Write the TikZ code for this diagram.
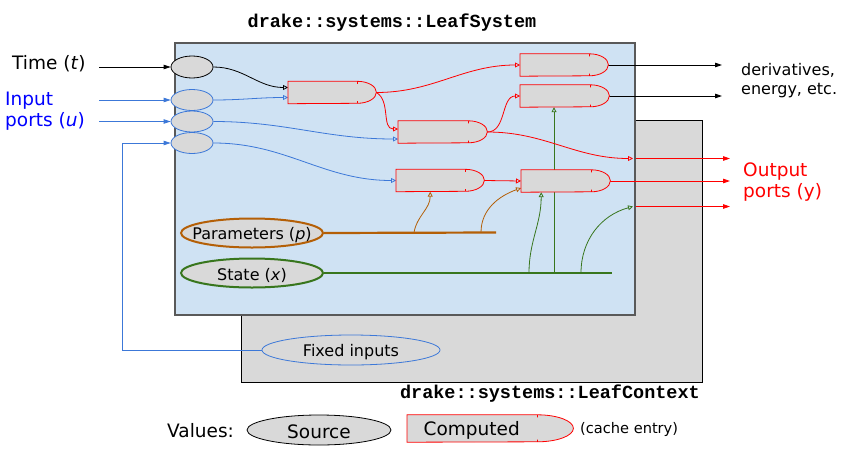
\documentclass[tikz,border=0pt]{standalone}
\usepackage{fontspec}
\setmainfont{DejaVu Sans}
\setmonofont{Liberation Mono}
\usetikzlibrary{shapes.geometric,arrows.meta}

\definecolor{sysblue}{HTML}{CFE2F3}
\definecolor{ctxgray}{HTML}{D9D9D9}
\definecolor{linkblue}{HTML}{3C78D8}
\definecolor{parorange}{HTML}{B45F06}
\definecolor{stgreen}{HTML}{38761D}

\tikzset{
  lbl/.style={inner sep=0pt, font=\fontsize{18.5}{21}\selectfont},
  small/.style={inner sep=0pt, font=\fontsize{16}{19}\selectfont},
  title/.style={inner sep=0pt, font=\fontsize{18.5}{21}\selectfont\ttfamily\bfseries},
  src/.style={ellipse, draw, fill=ctxgray, inner sep=0pt, line width=0.8pt},
  entry/.style={rectangle, inner sep=0pt, minimum height=22pt, anchor=west},
  entryline/.style={draw=red, fill=ctxgray, line width=0.8pt},
  feed/.style={line width=0.8pt, -{Triangle[open,length=5pt,width=5pt]}},
  push/.style={line width=0.8pt, -{Triangle[length=7pt,width=4.5pt]}},
}

\begin{document}
\begin{tikzpicture}[x=1pt,y=1pt]
  \useasboundingbox (0,0) rectangle (850,-450);

  % context and system
  \node[draw=black, fill=ctxgray, line width=1pt, inner sep=0pt,
        minimum width=461pt, minimum height=262pt] (context) at (471.5,-251) {};
  \node[draw=black!65, fill=sysblue, line width=1.2pt, inner sep=0pt,
        minimum width=460pt, minimum height=272pt] (system) at (405,-179) {};
  \node[title] (systitle) at (392,-23) {drake::systems::LeafSystem};
  \node[title, anchor=east] (ctxtitle) at (700,-394) {drake::systems::LeafContext};

  % sources
  \node[src, minimum width=42pt, minimum height=22pt] (t) at (192,-67) {};
  \node[src, draw=linkblue, minimum width=42pt, minimum height=21pt] (u1) at (192,-100) {};
  \node[src, draw=linkblue, minimum width=42pt, minimum height=21pt] (u2) at (192,-121.5) {};
  \node[src, draw=linkblue, minimum width=42pt, minimum height=21pt] (u3) at (192,-143) {};
  \node[src, draw=parorange, line width=2pt, minimum width=142pt, minimum height=29pt,
        label={[small, yshift=-2pt]center:Parameters (\textit{p})}] (params) at (252,-233) {};
  \node[src, draw=stgreen, line width=2pt, minimum width=142pt, minimum height=29pt,
        label={[small, yshift=-2pt]center:State (\textit{x})}] (state) at (252,-273) {};
  \node[src, draw=linkblue, fill=none, minimum width=178pt, minimum height=30pt,
        label={[small, yshift=-2pt]center:Fixed inputs}] (fixed) at (351,-350) {};

  % cache entries
  \node[entry, minimum width=88pt] (c1) at (288,-92.5) {};
  \node[entry, minimum width=88pt] (c2) at (520,-65) {};
  \node[entry, minimum width=89pt] (c3) at (520,-96) {};
  \node[entry, minimum width=89pt] (c4) at (398,-132) {};
  \node[entry, minimum width=88pt] (c5) at (396,-180.5) {};
  \node[entry, minimum width=89pt] (c6) at (521,-181) {};

  % outside labels
  \node[lbl, anchor=west] (timelbl) at (12,-64) {Time (\textit{t})};
  \node[lbl, anchor=west, align=left, text=blue] (inlbl) at (5,-111) {Input\\ports (\textit{u})};
  \node[small, anchor=west, align=left] (derivlbl) at (741,-80.5) {derivatives,\\energy, etc.};
  \node[lbl, anchor=west, align=left, text=red] (outlbl) at (743,-182) {Output\\ports (y)};

  \coordinate (tin) at (99,-67);
  \coordinate (uin1) at (99,-100);
  \coordinate (uin2) at (99,-121.5);
  \coordinate (bend) at (122,-350);
  \coordinate (pend) at (496,-232.5);
  \coordinate (send) at (612,-273);
  \coordinate (pb1) at (414,-232.5);
  \coordinate (pb2) at (481,-232.5);
  \coordinate (sb1) at (529,-273);
  \coordinate (sb2) at (554,-273);
  \coordinate (sb3) at (581,-273);
  \coordinate (y1) at (633,-158.5);
  \coordinate (y3) at (633,-206.5);
  \coordinate (dv1) at (722,-65);
  \coordinate (dv2) at (722,-96);
  \coordinate (yo1) at (730,-158.5);
  \coordinate (yo2) at (730,-181);
  \coordinate (yo3) at (730,-206.5);

  % inputs
  \draw[push] (tin) -- (t.west);
  \draw[push, linkblue] (uin1) -- (u1.west);
  \draw[push, linkblue] (uin2) -- (u2.west);
  \draw[push, linkblue] (fixed.west) -- (bend) |- (u3.west);

  % parameters and state
  \draw[parorange, line width=2.2pt] (params.east) -- (pend);
  \draw[stgreen, line width=2.2pt] (state.east) -- (send);
  \draw[feed, parorange] (pb1) to[out=80, in=-90] ([xshift=-10pt]c5.south);
  \draw[feed, parorange] (pb2) to[out=90, in=200] ([yshift=-7pt]c6.west);
  \draw[feed, stgreen] (sb1) to[out=90, in=-90] ([xshift=-24.5pt]c6.south);
  \draw[feed, stgreen] (sb2) -- (sb2 |- c3.south);
  \draw[feed, stgreen] (sb3) to[out=90, in=195] (y3);

  % computations
  \draw[feed] (t.east) to[out=0, in=180] ([yshift=5pt]c1.west);
  \draw[feed, linkblue] (u1.east) to[out=0, in=180] ([yshift=-5pt]c1.west);
  \draw[feed, linkblue] (u2.east) to[out=0, in=180] ([yshift=-7pt]c4.west);
  \draw[feed, linkblue] (u3.east) to[out=0, in=180] (c5.west);
  \draw[feed, red] (c1.east) to[out=0, in=180] (c2.west);
  \draw[feed, red] (c1.east) to[out=-30, in=180] ([yshift=3pt]c4.west);
  \draw[feed, red] (c4.east) to[out=0, in=180] (c3.west);
  \draw[feed, red] (c4.east) to[out=0, in=180] (y1);
  \draw[feed, red] (c5.east) -- (c6.west);

  % outputs
  \draw[push] (c2.east) -- (dv1);
  \draw[push] (c3.east) -- (dv2);
  \draw[push, red] ([xshift=3pt]y1) -- (yo1);
  \draw[push, red] (c6.east) -- (yo2);
  \draw[push, red] ([xshift=3pt]y3) -- (yo3);

  \foreach \n in {c1,c2,c3,c4,c5,c6}
    \draw[entryline] (\n.north west) -- ([xshift=-19pt]\n.north east)
      arc[start angle=90, end angle=-90, x radius=19pt, y radius=11pt]
      -- (\n.south west) -- cycle
      ([xshift=-19pt]\n.north east) -- ++(0,-2.5pt)
      ([xshift=-19pt]\n.south east) -- ++(0,2.5pt);

  % legend
  \node[lbl, anchor=west] (values) at (167,-431) {Values:};
  \node[src, minimum width=144pt, minimum height=30pt,
        label={[lbl, yshift=-2pt]center:Source}] (source) at (319,-430) {};
  \node[entry, minimum width=166pt, minimum height=27pt] (comp) at (407,-428.5) {};
  \draw[entryline] (comp.north west) -- ([xshift=-36pt]comp.north east)
    arc[start angle=90, end angle=-90, x radius=36pt, y radius=13.5pt]
    -- (comp.south west) -- cycle
    ([xshift=-36pt]comp.north east) -- ++(0,-2.5pt)
    ([xshift=-36pt]comp.south east) -- ++(0,2.5pt);
  \node[lbl] (comptxt) at ([xshift=-18.5pt, yshift=-1.5pt]comp.center) {Computed};
  \node[anchor=west, inner sep=0pt, font=\fontsize{14.6}{17}\selectfont] (cachelbl) at (580,-429.5) {(cache entry)};
\end{tikzpicture}
\end{document}
